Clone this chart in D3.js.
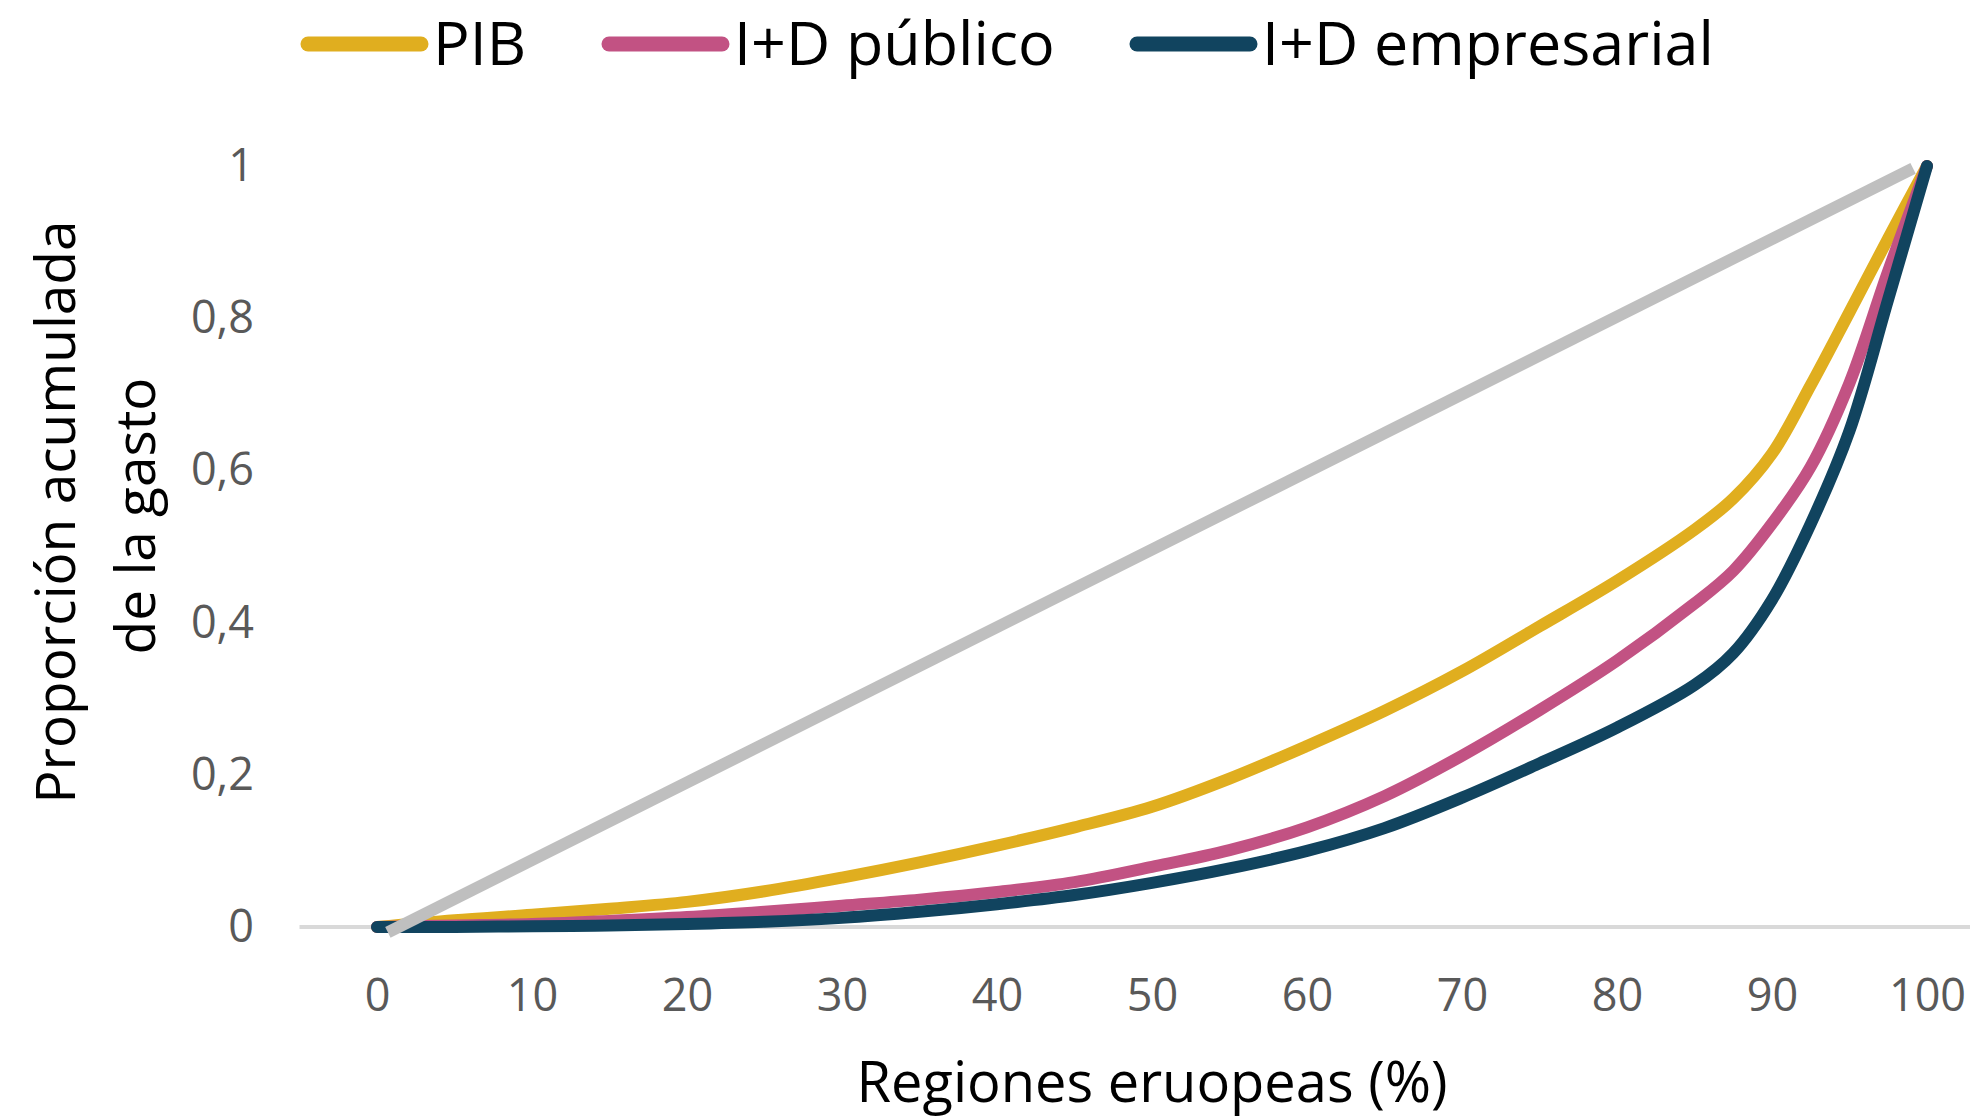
<!DOCTYPE html>
<html>
<head>
<meta charset="utf-8">
<script src="https://cdn.jsdelivr.net/npm/d3@7/dist/d3.min.js"></script>
<style>
  html, body { margin: 0; padding: 0; background: #ffffff; }
  svg { display: block; }
  text { font-family: "Open Sans", "Noto Sans", sans-serif; }
</style>
</head>
<body>
<svg id="chart" width="1970" height="1120"></svg>
<script>
// ---- data ----
const pctRegions = [0, 5, 10, 15, 20, 25, 30, 35, 40, 45, 50, 55, 60, 65, 70, 75, 80, 85, 87.5, 90, 92.5, 95, 97.5, 100];
const pib        = [0, 0.009, 0.016, 0.024, 0.033, 0.047, 0.065, 0.085, 0.107, 0.131, 0.158, 0.195, 0.238, 0.284, 0.336, 0.395, 0.455, 0.522, 0.563, 0.622, 0.712, 0.808, 0.905, 1];
const idPublico  = [0, 0.002, 0.004, 0.008, 0.013, 0.020, 0.028, 0.036, 0.046, 0.059, 0.079, 0.101, 0.131, 0.172, 0.225, 0.285, 0.350, 0.425, 0.468, 0.530, 0.605, 0.715, 0.862, 1];
const idEmpresa  = [0, 0, 0.001, 0.002, 0.004, 0.007, 0.012, 0.020, 0.030, 0.042, 0.058, 0.077, 0.100, 0.130, 0.170, 0.215, 0.262, 0.318, 0.360, 0.430, 0.530, 0.652, 0.825, 1];
const equalityX  = [0.7, 99.1];
const equalityY  = [-0.007, 0.997];
const seriesNames = ["PIB", "I+D público", "I+D empresarial"];
const xTicks = [0, 10, 20, 30, 40, 50, 60, 70, 80, 90, 100];
const yTicks = [0, 0.2, 0.4, 0.6, 0.8, 1];
const xTitle = "Regiones eruopeas (%)";
const yTitle = ["Proporción acumulada", "de la gasto"];

// ---- styles ----
const colors = ["#E0AE1F", "#C25283", "#11445F"];
const grayLine = "#BFBFBF";

const svg = d3.select("#chart");
const x = d3.scaleLinear().domain([0, 100]).range([377, 1927]);
const y = d3.scaleLinear().domain([0, 1]).range([927, 166]);

// x axis baseline line
svg.append("line")
  .attr("x1", x(-5)).attr("x2", x(105))
  .attr("y1", y(0)).attr("y2", y(0))
  .attr("stroke", "#D9D9D9").attr("stroke-width", 4);

// axes (labels only)
const xAxis = svg.append("g").attr("transform", "translate(0,979)")
  .call(d3.axisBottom(x).tickValues(xTicks).tickSize(0).tickPadding(0).tickFormat(d3.format("d")));
const yAxis = svg.append("g").attr("transform", "translate(254,0)")
  .call(d3.axisLeft(y).tickValues(yTicks).tickSize(0).tickPadding(0)
    .tickFormat(d => String(d).replace(".", ",")));
[xAxis, yAxis].forEach(g => {
  g.select(".domain").remove();
  g.selectAll("text")
    .attr("fill", "#595959")
    .style("font-family", "'Open Sans', sans-serif")
    .style("font-size", "45px");
});

// series lines
const seriesData = [pib, idPublico, idEmpresa];
const line = d3.line()
  .x(d => x(d[0])).y(d => y(d[1]))
  .curve(d3.curveCatmullRom.alpha(0.5));

seriesData.forEach((vals, i) => {
  const pts = pctRegions.map((p, j) => [p, vals[j]]);
  svg.append("path")
    .datum(pts)
    .attr("d", line)
    .attr("fill", "none")
    .attr("stroke", colors[i])
    .attr("stroke-width", 12)
    .attr("stroke-linecap", "round")
    .attr("stroke-linejoin", "round");
});

// equality line
svg.append("path")
  .datum(equalityX.map((p, j) => [p, equalityY[j]]))
  .attr("d", d3.line().x(d => x(d[0])).y(d => y(d[1])))
  .attr("fill", "none")
  .attr("stroke", grayLine)
  .attr("stroke-width", 12);

// axis titles
svg.append("text")
  .attr("x", x(50)).attr("y", 1102)
  .attr("text-anchor", "middle")
  .attr("fill", "#000")
  .style("font-size", "56px")
  .text(xTitle);

const yCenters = [[75, 512], [155, 516]];
yTitle.forEach((t, i) => {
  svg.append("text")
    .attr("transform", `translate(${yCenters[i][0]},${yCenters[i][1]}) rotate(-90)`)
    .attr("text-anchor", "middle")
    .attr("fill", "#000")
    .style("font-size", "55px")
    .text(t);
});

// legend
const legendX = [302, 603, 1131];
seriesNames.forEach((name, i) => {
  const g = svg.append("g").attr("transform", `translate(${legendX[i]},0)`);
  g.append("line")
    .attr("x1", 6).attr("x2", 119)
    .attr("y1", 44).attr("y2", 44)
    .attr("stroke", colors[i]).attr("stroke-width", 15)
    .attr("stroke-linecap", "round");
  g.append("text")
    .attr("x", 131).attr("y", 65)
    .attr("fill", "#000")
    .style("font-size", "61px")
    .text(name);
});
</script>
</body>
</html>
